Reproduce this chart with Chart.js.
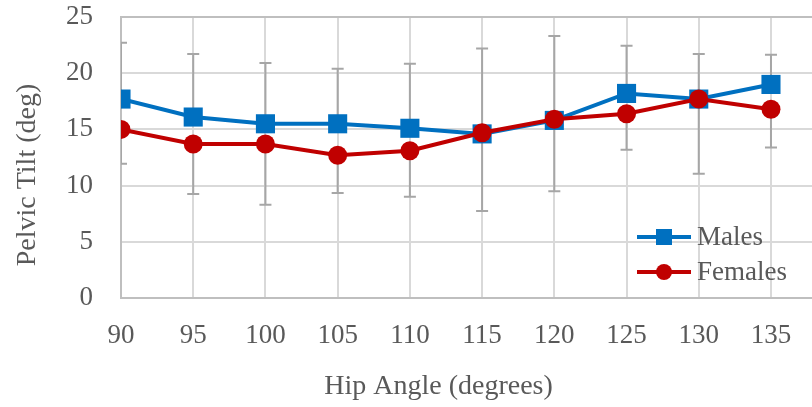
<!DOCTYPE html>
<html lang="en">
    <head>
        <title> Pelvic Tilt vs Hip Angle </title>
        <script src="https://cdn.jsdelivr.net/npm/chart.js@4.4.1/dist/chart.umd.min.js"></script>
        <style>
            html, body { margin: 0; padding: 0; background: #ffffff; overflow: hidden; }
        </style>
    </head>

    <body>
        <canvas id="myChart" width="812" height="407"></canvas>

        <script>

            const hipAngles = [90, 95, 100, 105, 110, 115, 120, 125, 130, 135];
            const males = [17.7, 16.1, 15.5, 15.5, 15.1, 14.6, 15.8, 18.2, 17.7, 19.0];
            const females = [15.0, 13.7, 13.7, 12.7, 13.1, 14.7, 15.9, 16.4, 17.7, 16.8];
            // only the upper bar of males and the lower bar of females show
            const malesErrPlus = [5.0, 5.6, 5.4, 4.9, 5.75, 7.6, 7.5, 4.25, 4.0, 2.65];
            const femalesErrMinus = [3.05, 4.45, 5.4, 3.35, 4.1, 6.95, 6.4, 3.2, 6.65, 3.4];
            const yTicks = [0, 5, 10, 15, 20, 25];

            const textColor = '#595959';
            const fontFamily = "'Liberation Serif', 'DejaVu Serif', serif";

            const errorBars = {
                id: 'errorBars',
                beforeDatasetsDraw (chart) {
                    const ctx = chart.ctx;
                    const area = chart.chartArea;
                    const yScale = chart.scales.y;
                    ctx.save ();
                    ctx.beginPath ();
                    ctx.rect (area.left, area.top, area.right - area.left, area.bottom - area.top);
                    ctx.clip ();
                    ctx.strokeStyle = '#a6a6a6';
                    ctx.lineWidth = 2;
                    chart.data.datasets.forEach ((ds, di) => {
                        const meta = chart.getDatasetMeta (di);
                        meta.data.forEach ((pt, i) => {
                            const v = ds.data [i].y;
                            const hi = v + (ds.errPlus ? ds.errPlus [i] : 0);
                            const lo = v - (ds.errMinus ? ds.errMinus [i] : 0);
                            const yHi = yScale.getPixelForValue (hi);
                            const yLo = yScale.getPixelForValue (lo);
                            ctx.beginPath ();
                            ctx.moveTo (pt.x, yHi);
                            ctx.lineTo (pt.x, yLo);
                            if (ds.errPlus) { ctx.moveTo (pt.x - 6, yHi); ctx.lineTo (pt.x + 6, yHi); }
                            if (ds.errMinus) { ctx.moveTo (pt.x - 6, yLo); ctx.lineTo (pt.x + 6, yLo); }
                            ctx.stroke ();
                        });
                    });
                    ctx.restore ();
                }
            };

            const lineLegend = {
                id: 'lineLegend',
                afterDraw (chart) {
                    const ctx = chart.ctx;
                    const area = chart.chartArea;
                    const x0 = area.right - 175;
                    const y0 = area.bottom - 61;
                    ctx.save ();
                    ctx.font = '27px ' + fontFamily;
                    ctx.textBaseline = 'middle';
                    chart.data.datasets.forEach ((ds, i) => {
                        const y = y0 + i * 35;
                        ctx.strokeStyle = ds.borderColor;
                        ctx.lineWidth = ds.borderWidth;
                        ctx.beginPath ();
                        ctx.moveTo (x0, y);
                        ctx.lineTo (x0 + 54, y);
                        ctx.stroke ();
                        ctx.fillStyle = ds.backgroundColor;
                        if (ds.pointStyle === 'rect') {
                            ctx.fillRect (x0 + 27 - 8, y - 8, 16, 16);
                        } else {
                            ctx.beginPath ();
                            ctx.arc (x0 + 27, y, 8, 0, Math.PI * 2);
                            ctx.fill ();
                        }
                        ctx.fillStyle = textColor;
                        ctx.fillText (ds.label, x0 + 60, y + 1);
                    });
                    ctx.restore ();
                }
            };

            const noPad = (scale) => {
                scale.paddingTop = 0;
                scale.paddingRight = 0;
                scale.paddingBottom = 0;
                scale.paddingLeft = 0;
            };

            const chartContext = document.getElementById ('myChart').getContext ('2d');
            const myLineChart = new Chart (chartContext, {
                type: 'line',
                data: {
                    datasets: [{
                        label: 'Males',
                        data: hipAngles.map ((a, i) => ({ x: a, y: males [i] })),
                        errPlus: malesErrPlus,
                        borderColor: '#0070c0',
                        backgroundColor: '#0070c0',
                        borderWidth: 4,
                        pointStyle: 'rect',
                        pointRadius: 13.5,
                        pointBorderWidth: 0,
                        order: 1
                    }, {
                        label: 'Females',
                        data: hipAngles.map ((a, i) => ({ x: a, y: females [i] })),
                        errMinus: femalesErrMinus,
                        borderColor: '#c00000',
                        backgroundColor: '#c00000',
                        borderWidth: 4,
                        pointStyle: 'circle',
                        pointRadius: 9.5,
                        pointBorderWidth: 0,
                        order: 0
                    }]
                },
                options: {
                    responsive: false,
                    animation: false,
                    layout: { autoPadding: false, padding: { top: 17, right: 0, left: 0, bottom: 0 } },
                    plugins: {
                        legend: { display: false },
                        tooltip: { enabled: false }
                    },
                    scales: {
                        x: {
                            type: 'linear',
                            min: 90,
                            max: 137.84,
                            afterFit: (scale) => { scale.height = 109; noPad (scale); },
                            ticks: {
                                stepSize: 5,
                                includeBounds: false,
                                padding: 22,
                                color: textColor,
                                font: { family: fontFamily, size: 27 }
                            },
                            grid: { color: '#d9d9d9', lineWidth: 2, drawTicks: false },
                            border: { color: '#bfbfbf', width: 2 },
                            title: {
                                display: true,
                                text: 'Hip Angle (degrees)\u00a0\u00a0\u00a0\u00a0\u00a0\u00a0\u00a0\u00a0',
                                color: textColor,
                                font: { family: fontFamily, size: 28 },
                                padding: { top: 0, bottom: 4 }
                            }
                        },
                        y: {
                            min: 0,
                            max: 25,
                            afterFit: (scale) => { scale.width = 121; noPad (scale); },
                            afterBuildTicks: (scale) => { scale.ticks = yTicks.map (v => ({ value: v })); },
                            ticks: {
                                padding: 28,
                                color: textColor,
                                font: { family: fontFamily, size: 27 }
                            },
                            grid: {
                                color: (c) => (c.tick && c.tick.value === 25 ? '#bfbfbf' : '#d9d9d9'),
                                lineWidth: 2,
                                drawTicks: false
                            },
                            border: { color: '#bfbfbf', width: 2 },
                            title: {
                                display: true,
                                text: 'Pelvic Tilt (deg)\u00a0\u00a0\u00a0\u00a0\u00a0',
                                color: textColor,
                                font: { family: fontFamily, size: 28 },
                                padding: { top: 11, bottom: 0 }
                            }
                        }
                    }
                },
                plugins: [errorBars, lineLegend]
            });

        </script>
    </body>
</html>
